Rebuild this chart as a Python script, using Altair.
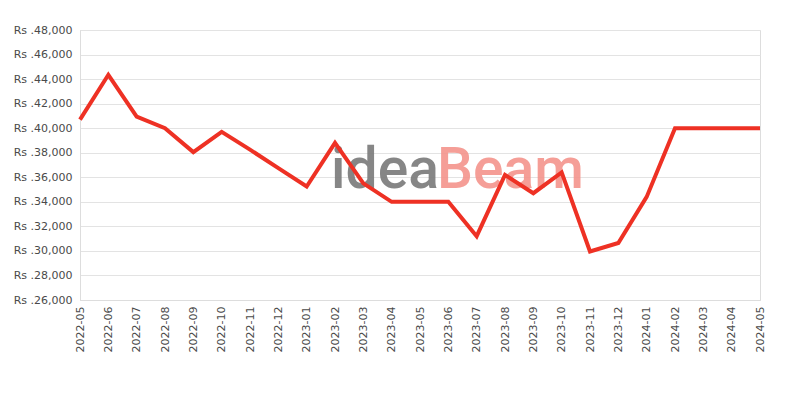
import altair as alt
import pandas as pd

months = ["2022-05", "2022-06", "2022-07", "2022-08", "2022-09", "2022-10", "2022-11",
          "2022-12", "2023-01", "2023-02", "2023-03", "2023-04", "2023-05", "2023-06",
          "2023-07", "2023-08", "2023-09", "2023-10", "2023-11", "2023-12", "2024-01",
          "2024-02", "2024-03", "2024-04", "2024-05"]
prices = [40700, 44350, 40950, 40000, 38050, 39700, 38250, 36750, 35250, 38800,
          35500, 34000, 34000, 34000, 31200, 36200, 34700, 36400, 29950, 30650,
          34400, 40000, 40000, 40000, 40000]
y_ticks = [26000, 28000, 30000, 32000, 34000, 36000, 38000, 40000, 42000, 44000, 46000, 48000]

df = pd.DataFrame({"month": months, "price": prices})

line = alt.Chart(df).mark_line(color="#ee3124", strokeWidth=4, strokeJoin="miter").encode(
    x=alt.X("month:O", sort=months,
            scale=alt.Scale(type="point", padding=0),
            axis=alt.Axis(title=None, labelAngle=-90, ticks=False, labelPadding=6,
                          labelFontSize=11, labelColor="#4a4a4a", domainColor="#ddd",
                          labelFont="DejaVu Sans", grid=False)),
    y=alt.Y("price:Q", scale=alt.Scale(domain=[26000, 48000], nice=False, zero=False),
            axis=alt.Axis(title=None, values=y_ticks, ticks=False, labelPadding=8,
                          labelExpr="'Rs .' + format(datum.value, ',')",
                          labelFontSize=11, labelColor="#4a4a4a", labelFont="DejaVu Sans",
                          domainColor="#ddd", gridColor="#e3e3e3")),
)

wm_idea = alt.Chart(pd.DataFrame({"t": ["idea"]})).mark_text(
    font="Roboto", fontSize=57, fontWeight=500, color="#7a7a7a", opacity=0.9,
    align="left", baseline="alphabetic"
).encode(text="t:N", x=alt.value(251), y=alt.value(158))

wm_beam = alt.Chart(pd.DataFrame({"t": ["Beam"]})).mark_text(
    font="Roboto", fontSize=57, fontWeight=500, color="#f4948c", opacity=0.9,
    align="left", baseline="alphabetic"
).encode(text="t:N", x=alt.value(357), y=alt.value(158))

chart = alt.layer(wm_idea, wm_beam, line).properties(
    width=680, height=270,
    autosize=alt.AutoSizeParams(type="none"),
    padding={"left": 72, "top": 22, "right": 32, "bottom": 70},
).configure_view(stroke="#ddd")

chart.save("out.html", embed_options={"renderer": "svg", "actions": False})
